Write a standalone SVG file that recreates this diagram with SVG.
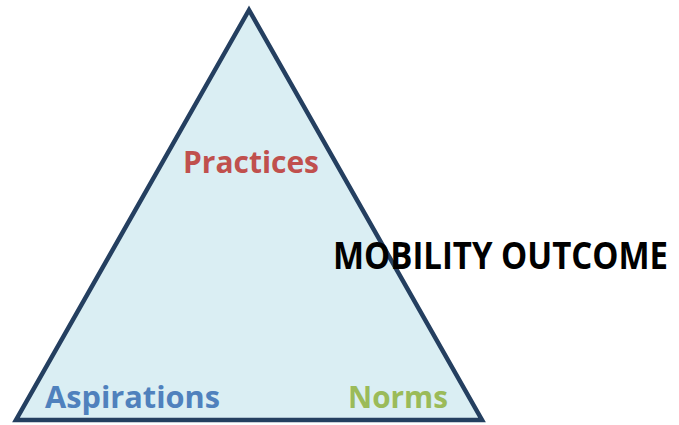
<svg xmlns="http://www.w3.org/2000/svg" width="679" height="425" viewBox="0 0 679 425">
  <style>
    .lbl { font-family: "Open Sans", "Liberation Sans", sans-serif; font-weight: bold; }
  </style>
  <rect width="679" height="425" fill="#ffffff"/>
  <g id="triangle">
    <polygon points="249,10 16,420 482,420" fill="#DAEEF3" stroke="#243F60" stroke-width="4.5" stroke-linejoin="miter"/>
  </g>
  <g id="practices">
    <text class="lbl" x="183" y="173" font-size="31" fill="#C0504D" textLength="136" lengthAdjust="spacingAndGlyphs">Practices</text>
  </g>
  <g id="aspirations">
    <text class="lbl" x="45" y="408" font-size="31" fill="#4F81BD" textLength="175" lengthAdjust="spacingAndGlyphs">Aspirations</text>
  </g>
  <g id="norms">
    <text class="lbl" x="348" y="408" font-size="31" fill="#9BBB59" textLength="100" lengthAdjust="spacingAndGlyphs">Norms</text>
  </g>
  <g id="outcome" transform="translate(333,269) scale(1,1.12)">
    <text class="lbl" x="0" y="0" font-size="33" fill="#000000" textLength="335" lengthAdjust="spacingAndGlyphs">MOBILITY OUTCOME</text>
  </g>
</svg>
